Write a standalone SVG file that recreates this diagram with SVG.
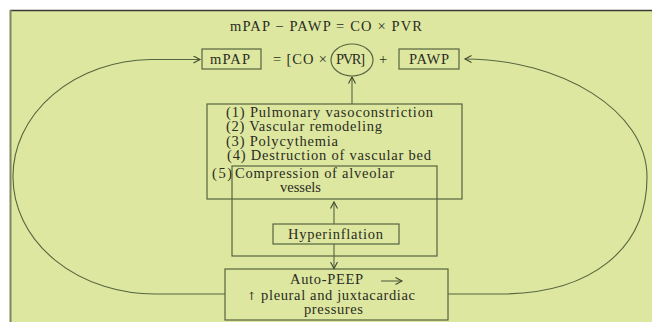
<svg xmlns="http://www.w3.org/2000/svg" width="652" height="322" viewBox="0 0 652 322">
<defs>
<style>
.t{font-family:"Liberation Serif","Times New Roman",serif;font-size:14.5px;fill:#2a2c22}
.box{fill:none;stroke:#56653f;stroke-width:1.2}
.ln{fill:none;stroke:#56653f;stroke-width:1.1}
.arr{marker-end:url(#ah)}
.sym{font-family:"DejaVu Serif",serif;font-size:11px}
</style>
<marker id="ah" markerUnits="userSpaceOnUse" markerWidth="10" markerHeight="10" refX="7" refY="4" orient="auto">
<path d="M0.5,0.5 L7,4 L0.5,7.5" fill="none" stroke="#3f4a30" stroke-width="1.1"/>
</marker>
</defs>
<rect x="0" y="0" width="652" height="322" fill="#ffffff"/>
<rect x="10" y="10" width="642" height="312" fill="#dde7a0"/>
<line x1="10" y1="10.5" x2="652" y2="10.5" stroke="#3a3a36" stroke-width="1.5"/>
<line x1="10.5" y1="10" x2="10.5" y2="322" stroke="#7c875c" stroke-width="2"/>

<g id="title">
<text class="t" x="230" y="31" textLength="192" lengthAdjust="spacing">mPAP − PAWP = CO × PVR</text>
</g>

<g id="mPAP">
<rect class="box" x="202" y="49" width="59" height="20"/>
<text class="t" x="210" y="64" textLength="40" lengthAdjust="spacing">mPAP</text>
</g>

<g id="equation">
<text class="t" x="273" y="64" textLength="54" lengthAdjust="spacing">= [CO ×</text>
<text class="t" x="383" y="64" text-anchor="middle">+</text>
</g>

<g id="PVR">
<ellipse class="box" cx="352" cy="60" rx="21" ry="16"/>
<text class="t" x="336" y="64" textLength="29" lengthAdjust="spacing">PVR]</text>
</g>

<g id="PAWP">
<rect class="box" x="399" y="49" width="60" height="20"/>
<text class="t" x="409" y="64" textLength="40" lengthAdjust="spacing">PAWP</text>
</g>

<g id="causes">
<rect class="box" x="207" y="104" width="255" height="95"/>
<text class="t" x="226" y="117" textLength="207" lengthAdjust="spacing">(1) Pulmonary vasoconstriction</text>
<text class="t" x="226" y="131" textLength="156" lengthAdjust="spacing">(2) Vascular remodeling</text>
<text class="t" x="226" y="145.5" textLength="112" lengthAdjust="spacing">(3) Polycythemia</text>
<text class="t" x="227" y="159.5" textLength="204" lengthAdjust="spacing">(4) Destruction of vascular bed</text>
<text class="t" x="212" y="178" textLength="20" lengthAdjust="spacing">(5)</text>
</g>

<g id="compression">
<rect class="box" x="232" y="166" width="205" height="90"/>
<text class="t" x="235" y="178" textLength="159" lengthAdjust="spacing">Compression of alveolar</text>
<text class="t" x="280" y="192" textLength="41" lengthAdjust="spacing">vessels</text>
</g>

<g id="hyperinflation">
<rect class="box" x="273" y="224" width="126" height="20"/>
<text class="t" x="288" y="239" textLength="95" lengthAdjust="spacing">Hyperinflation</text>
</g>

<g id="autopeep">
<rect class="box" x="225" y="269" width="223" height="51"/>
<text class="t" x="290" y="284" textLength="73" lengthAdjust="spacing">Auto-PEEP</text>
<path class="ln arr" d="M381 281 L402 281"/>
<text class="t" x="247" y="299.5" textLength="168" lengthAdjust="spacing"><tspan class="sym">↑</tspan> pleural and juxtacardiac</text>
<text class="t" x="304" y="313.5" textLength="59" lengthAdjust="spacing">pressures</text>
</g>

<g id="connectors">
<path class="ln arr" d="M352 104 L352 77"/>
<path class="ln arr" d="M334 224 L334 202"/>
<path class="ln arr" d="M334 244 L334 268.5"/>
<path class="ln arr" d="M225 294 L157 294 A142 117 0 0 1 13 177 A140 117 0 0 1 150 59.5 L200 59.5"/>
<path class="ln arr" d="M448 294 L500 294 C590 294 647 250 647 177 C647 110 560 59 465 59"/>
</g>
</svg>
